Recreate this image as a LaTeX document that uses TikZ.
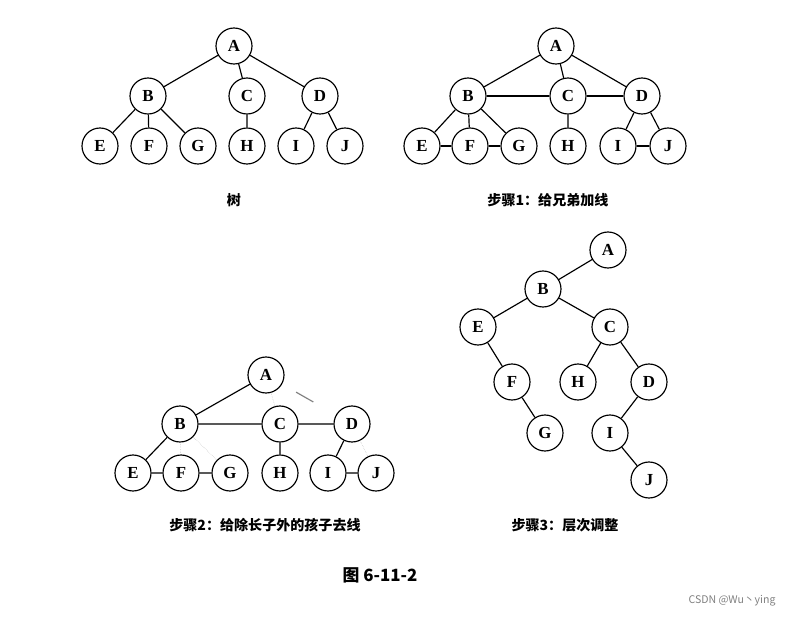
\documentclass[tikz,border=0pt]{standalone}
\usepackage{fontspec}
\setmainfont{Liberation Serif}
\newfontfamily\cjk{Noto Sans CJK SC}
\usetikzlibrary{calc}

\begin{document}
\begin{tikzpicture}
[x=0.03cm,y=-0.03cm,line width=1pt,vertex/.style={draw,circle,line width=1pt,minimum size=1.08cm,inner sep=0pt,font=\Large\bfseries},
brother/.style={line width=2.4pt},
gone/.style={gray!60,densely dotted,thin},
caption/.style={font=\cjk\bfseries\large}]
\useasboundingbox (0,0) rectangle (806,618);

%Tree
\node (A1) at (234,46)[vertex] {A};
\node (B1) at (148,96)[vertex] {B};
\node (C1) at (247,96)[vertex] {C};
\node (D1) at (320,96)[vertex] {D};
\node (E1) at (100,146)[vertex] {E};
\node (F1) at (149,146)[vertex] {F};
\node (G1) at (198,146)[vertex] {G};
\node (H1) at (247,146)[vertex] {H};
\node (I1) at (296,146)[vertex] {I};
\node (J1) at (345,146)[vertex] {J};
\draw (A1)--(B1) (A1)--(C1) (A1)--(D1) (B1)--(E1) (B1)--(F1) (B1)--(G1)
  (C1)--(H1) (D1)--(I1) (D1)--(J1);
\node (L1) at (234,200)[caption] {树};

%Step 1: link brothers
\node (A2) at (556,46)[vertex] {A};
\node (B2) at (468,96)[vertex] {B};
\node (C2) at (568,96)[vertex] {C};
\node (D2) at (642,96)[vertex] {D};
\node (E2) at (422,146)[vertex] {E};
\node (F2) at (470,146)[vertex] {F};
\node (G2) at (519,146)[vertex] {G};
\node (H2) at (568,146)[vertex] {H};
\node (I2) at (618,146)[vertex] {I};
\node (J2) at (668,146)[vertex] {J};
\draw (A2)--(B2) (A2)--(C2) (A2)--(D2) (B2)--(E2) (B2)--(F2) (B2)--(G2)
  (C2)--(H2) (D2)--(I2) (D2)--(J2);
\draw[brother] (B2)--(C2) (C2)--(D2) (E2)--(F2) (F2)--(G2) (I2)--(J2);
\node (L2) at (548,200)[caption] {步骤1：给兄弟加线};

%Step 2: remove lines
\node (A3) at (266,375)[vertex] {A};
\node (B3) at (180,424)[vertex] {B};
\node (C3) at (280,424)[vertex] {C};
\node (D3) at (352,424)[vertex] {D};
\node (E3) at (133,473)[vertex] {E};
\node (F3) at (181,473)[vertex] {F};
\node (G3) at (230,473)[vertex] {G};
\node (H3) at (280,473)[vertex] {H};
\node (I3) at (328,473)[vertex] {I};
\node (J3) at (376,473)[vertex] {J};
\draw (A3)--(B3) (B3)--(E3) (C3)--(H3) (D3)--(I3)
  (B3)--(C3) (C3)--(D3) (E3)--(F3) (F3)--(G3) (I3)--(J3);
\draw[gone] (A3)--(C3) (B3)--(F3) (B3)--(G3) (D3)--(J3);
\draw[gray] ($(A3)!0.35!(D3)$)--($(A3)!0.55!(D3)$);
\node (L3) at (265,525)[caption] {步骤2：给除长子外的孩子去线};

%Step 3: adjust levels
\node (A4) at (608,250)[vertex] {A};
\node (B4) at (543,289)[vertex] {B};
\node (C4) at (610,327)[vertex] {C};
\node (E4) at (478,327)[vertex] {E};
\node (F4) at (512,382)[vertex] {F};
\node (H4) at (578,382)[vertex] {H};
\node (D4) at (649,382)[vertex] {D};
\node (G4) at (545,433)[vertex] {G};
\node (I4) at (610,433)[vertex] {I};
\node (J4) at (649,480)[vertex] {J};
\draw (A4)--(B4) (B4)--(E4) (B4)--(C4) (E4)--(F4) (F4)--(G4)
  (C4)--(H4) (C4)--(D4) (D4)--(I4) (I4)--(J4);
\node (L4) at (565,525)[caption] {步骤3：层次调整};

\node (title) at (380,575)[caption,font=\cjk\bfseries\Large] {图 6-11-2};
\node (mark) at (732,601)[font=\cjk\small,gray] {CSDN @Wu丶ying};
\end{tikzpicture}
\end{document}
